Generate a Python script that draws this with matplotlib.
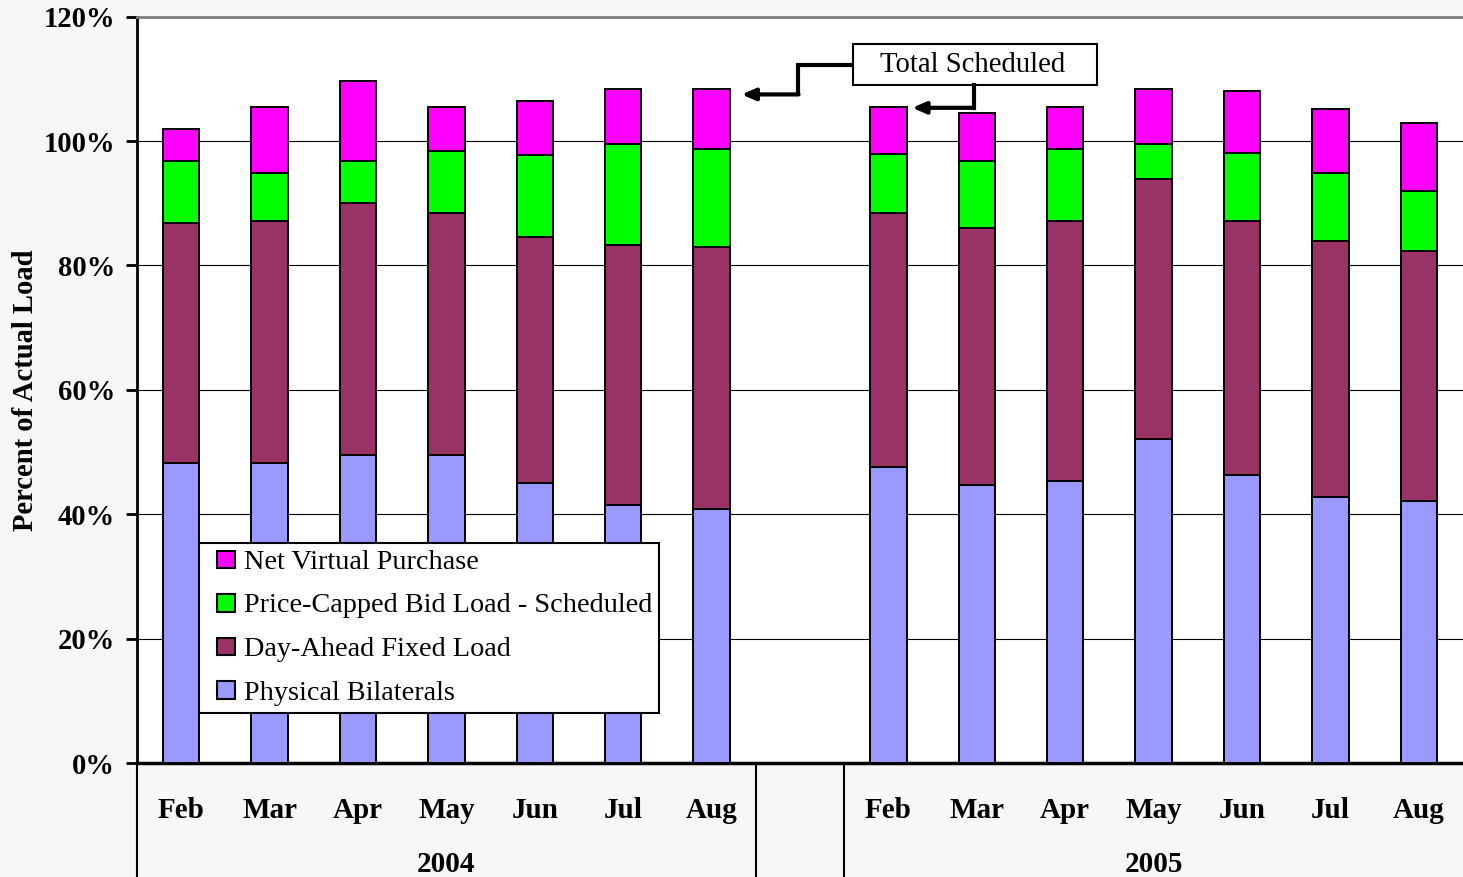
import numpy as np
import matplotlib
matplotlib.use("Agg")
import matplotlib.pyplot as plt
import matplotlib.patches as mpatches
from matplotlib.legend_handler import HandlerPatch
from matplotlib.transforms import blended_transform_factory

plt.rcParams['font.family'] = ['Liberation Serif', 'DejaVu Serif']

# monthly share of actual load (%), Feb-Aug 2004 then Feb-Aug 2005
months = ['Feb', 'Mar', 'Apr', 'May', 'Jun', 'Jul', 'Aug']
years = ['2004', '2005']

physical_bilaterals = [48.3, 48.3, 49.5, 49.5, 45.1, 41.5, 40.9,
                       47.6, 44.7, 45.3, 52.1, 46.3, 42.8, 42.1]
day_ahead_fixed = [38.6, 38.9, 40.6, 39.0, 39.5, 41.8, 42.1,
                   40.8, 41.4, 41.9, 41.8, 40.9, 41.1, 40.2]
price_capped_bid = [9.9, 7.7, 6.7, 9.9, 13.1, 16.3, 15.7,
                    9.6, 10.7, 11.5, 5.7, 10.9, 11.0, 9.7]
net_virtual = [5.2, 10.6, 12.9, 7.1, 8.8, 8.8, 9.7,
               7.5, 7.7, 6.8, 8.8, 10.0, 10.2, 10.9]

series = [
    ('Physical Bilaterals', physical_bilaterals, '#9999FF'),
    ('Day-Ahead Fixed Load', day_ahead_fixed, '#993366'),
    ('Price-Capped Bid Load - Scheduled', price_capped_bid, '#00FF00'),
    ('Net Virtual Purchase', net_virtual, '#FF00FF'),
]

# seven months, one empty slot, seven months
x = np.concatenate([np.arange(7), np.arange(8, 15)])

fig = plt.figure(figsize=(14.63, 8.77), dpi=100, facecolor='#f7f7f7')
ax = fig.add_axes([137 / 1463, 114 / 877, 1326 / 1463, 746.3 / 877])
ax.set_facecolor('white')

bottom = np.zeros(len(x))
for label, vals, color in series:
    vals = np.array(vals)
    ax.bar(x, vals, width=0.41, bottom=bottom, color=color,
           edgecolor='black', linewidth=1.4, label=label, zorder=3)
    bottom += vals
totals = bottom

ax.set_xlim(-0.5, 14.5)
ax.set_ylim(0, 120)
ax.set_yticks(np.arange(0, 121, 20))
ax.set_yticklabels([f'{v}%' for v in range(0, 121, 20)],
                   fontsize=20.6, fontweight='bold')
ax.tick_params(axis='y', length=8, width=2, pad=8)
ax.set_xticks([])
ax.grid(axis='y', color='black', linewidth=0.8, zorder=0)
ax.set_axisbelow(True)

ax.spines['left'].set_linewidth(2)
ax.spines['bottom'].set_linewidth(2.5)
ax.spines['top'].set_color('#808080')
ax.spines['top'].set_linewidth(2)
ax.spines['right'].set_visible(False)

ax.set_ylabel('Percent of Actual Load', fontsize=20.6, fontweight='bold')
ax.yaxis.set_label_coords(-0.074, 0.5)

# two-level category axis: months, then years, split by vertical rules
trans = blended_transform_factory(ax.transData, ax.transAxes)
for i, xi in enumerate(x):
    ax.text(xi, -0.063, months[i % 7], transform=trans, ha='center',
            va='center', fontsize=21, fontweight='bold')
ax.text(3, -0.136, years[0], transform=trans, ha='center', va='center',
        fontsize=21, fontweight='bold')
ax.text(11, -0.136, years[1], transform=trans, ha='center', va='center',
        fontsize=21, fontweight='bold')
for sx in [-0.5, 6.5, 7.5]:
    ax.plot([sx, sx], [0, -0.16], transform=trans, color='black',
            linewidth=1.5, clip_on=False)


def square_handle(legend, orig_handle, xdescent, ydescent, width, height,
                  fontsize):
    s = height * 1.1
    return mpatches.Rectangle((-xdescent + width - s, -ydescent - 1), s, s)


proxies = [mpatches.Patch(facecolor=c, edgecolor='black', linewidth=1.5,
                          label=l) for l, _, c in series][::-1]
leg = ax.legend(handles=proxies, loc='lower left',
                bbox_to_anchor=(0.0468, 0.067), fontsize=20.3,
                frameon=True, fancybox=False, framealpha=1,
                edgecolor='black', handlelength=1.02, handleheight=0.5,
                handletextpad=0.3, labelspacing=0.66, borderpad=0.26,
                borderaxespad=0,
                handler_map={mpatches.Patch: HandlerPatch(patch_func=square_handle)})
leg.get_frame().set_linewidth(1.5)
leg.set_zorder(5)

# "Total Scheduled" callout pointing at two bar tops
bx0, bx1, by0, by1 = 7.596, 10.36, 109.0, 115.6
ax.add_patch(mpatches.Rectangle((bx0, by0), bx1 - bx0, by1 - by0,
                                facecolor='white', edgecolor='black',
                                linewidth=1.5, zorder=6))
ax.text((bx0 + bx1) / 2 - 0.02, (by0 + by1) / 2, 'Total Scheduled',
        ha='center', va='center', fontsize=20.6, zorder=7)

arrow = dict(arrowstyle='-|>,head_length=0.8,head_width=0.35',
             color='black', lw=3, shrinkA=0, shrinkB=0)
tip1 = (6.34, totals[6] - 0.9)
elbow1 = 6.974
ax.plot([bx0, elbow1, elbow1], [112.3, 112.3, tip1[1]], color='black',
        lw=3, solid_capstyle='butt', solid_joinstyle='miter', zorder=6)
ax.annotate('', xy=tip1, xytext=(elbow1 + 0.01, tip1[1]),
            arrowprops=arrow, zorder=6)
tip2 = (8.27, totals[7] - 0.15)
elbow2 = 8.968
ax.plot([elbow2, elbow2], [by0, tip2[1]], color='black', lw=3,
        solid_capstyle='projecting', zorder=6)
ax.annotate('', xy=tip2, xytext=(elbow2, tip2[1]), arrowprops=arrow,
            zorder=6)

fig.savefig('out.png', dpi=100, facecolor=fig.get_facecolor())
